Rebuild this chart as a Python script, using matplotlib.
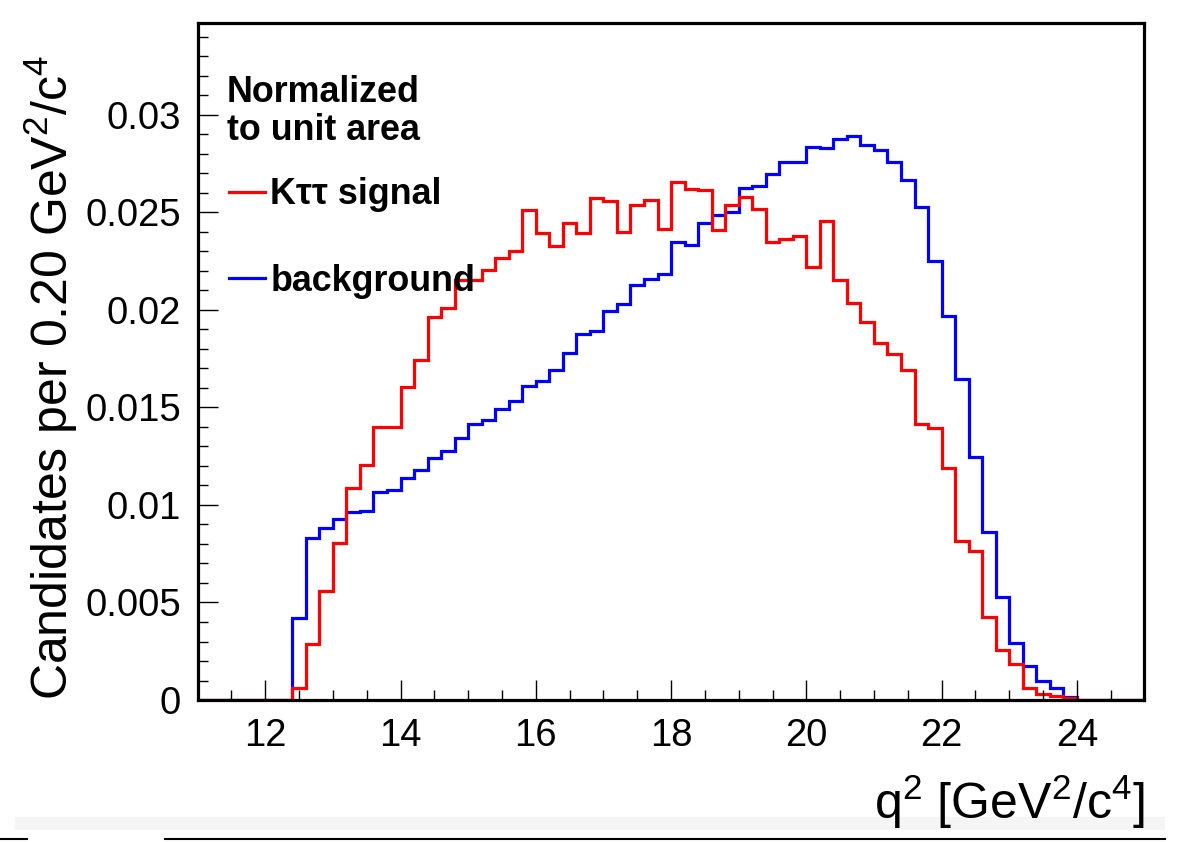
import numpy as np
import matplotlib
matplotlib.use('Agg')
import matplotlib.pyplot as plt
from matplotlib.ticker import MultipleLocator, FuncFormatter
from matplotlib.lines import Line2D
from matplotlib.patches import Rectangle

# q^2 binning: 0.2 GeV^2/c^4 bins from 11 to 25
bin_edges = np.linspace(11.0, 25.0, 71)

# normalized bin contents (bins 11.0 ... 24.8)
signal = [
	0, 0, 0, 0, 0, 0, 0,
	0.00063, 0.00287, 0.00559, 0.00803, 0.01085, 0.01207, 0.01398, 0.01398,
	0.01603, 0.01744, 0.01963, 0.02009, 0.02154, 0.02154, 0.02202, 0.02265, 0.02299, 0.02513,
	0.02393, 0.02325, 0.02444, 0.02393, 0.02573, 0.02556, 0.02398, 0.02538, 0.02564, 0.02414,
	0.02653, 0.02621, 0.02614, 0.02407, 0.02537, 0.02577, 0.02516, 0.02347, 0.02363, 0.02380,
	0.02217, 0.02456, 0.02154, 0.02034, 0.01938, 0.01832, 0.01774, 0.01689, 0.01415, 0.01393,
	0.01191, 0.00817, 0.00766, 0.00427, 0.00256, 0.00185, 0.00060, 0.00029, 0.00020, 0.00008,
	0, 0, 0, 0, 0,
]
background = [
	0, 0, 0, 0, 0, 0, 0,
	0.00419, 0.00832, 0.00880, 0.00928, 0.00966, 0.00970, 0.01065, 0.01074,
	0.01137, 0.01178, 0.01241, 0.01275, 0.01342, 0.01415, 0.01436, 0.01492, 0.01532, 0.01610,
	0.01637, 0.01689, 0.01778, 0.01875, 0.01892, 0.01995, 0.02029, 0.02128, 0.02159, 0.02183,
	0.02350, 0.02330, 0.02444, 0.02487, 0.02503, 0.02624, 0.02632, 0.02697, 0.02760, 0.02757,
	0.02834, 0.02829, 0.02877, 0.02892, 0.02846, 0.02821, 0.02760, 0.02667, 0.02525, 0.02248,
	0.01966, 0.01646, 0.01248, 0.00860, 0.00527, 0.00291, 0.00174, 0.00097, 0.00060, 0.00017,
	0, 0, 0, 0, 0,
]
legend_title = ['Normalized', 'to unit area']
legend_labels = ['K\u03c4\u03c4 signal', 'background']

plt.rcParams['font.family'] = ['Liberation Sans', 'DejaVu Sans']
plt.rcParams['mathtext.fontset'] = 'custom'
plt.rcParams['mathtext.rm'] = 'Liberation Sans'

W, H = 1180, 842
fig = plt.figure(figsize=(W / 100, H / 100), dpi=100)
ax = fig.add_axes([0.1675, 0.1686, 0.9699 - 0.1675, 0.9727 - 0.1686])

ax.stairs(background, bin_edges, color='#0000ff', linewidth=2.3)
ax.stairs(signal, bin_edges, color='#ff0000', linewidth=2.3)

ax.set_xlim(11, 25)
ax.set_ylim(0, 0.0347)

ax.xaxis.set_major_locator(MultipleLocator(2))
ax.xaxis.set_minor_locator(MultipleLocator(0.5))
ax.yaxis.set_major_locator(MultipleLocator(0.005))
ax.yaxis.set_minor_locator(MultipleLocator(0.001))
ax.yaxis.set_major_formatter(FuncFormatter(lambda v, p: '%g' % round(v, 4)))

ax.tick_params(which='both', direction='in', top=False, right=False, width=1.0, labelsize=27.5)
ax.tick_params(which='major', length=14.4)
ax.tick_params(which='minor', length=7.2)
ax.tick_params(axis='x', pad=13)
ax.tick_params(axis='y', pad=12)
for sp in ax.spines.values():
	sp.set_linewidth(2.3)

# axis titles, ROOT style (aligned to the end of the axis)
fig.text(1145 / W, 1 - 802 / H, r'q$^{2}$ [GeV$^{2}$/c$^{4}$]', fontsize=36,
	ha='right', va='center')
fig.text(51 / W, 1 - 55 / H, r'Candidates per 0.20 GeV$^{2}$/c$^{4}$', fontsize=36,
	rotation=90, ha='center', va='top')

# legend header
fig.text(227 / W, 1 - 101.7 / H, legend_title[0], fontsize=25.8, fontweight='bold', va='baseline')
fig.text(227 / W, 1 - 140 / H, legend_title[1], fontsize=25.8, fontweight='bold', va='baseline')

handles = [Line2D([], [], color='#ff0000', linewidth=2.3),
	Line2D([], [], color='#0000ff', linewidth=2.3)]
leg = ax.legend(handles, legend_labels, frameon=False,
	loc='center left', bbox_to_anchor=(229 / W, 1 - 238 / H), bbox_transform=fig.transFigure,
	borderaxespad=0, borderpad=0, handlelength=1.0, handletextpad=0.15, labelspacing=1.44,
	prop={'size': 25.8, 'weight': 'bold'})

# page artefacts below the plot
fig.add_artist(Rectangle((15 / W, 1 - 830 / H), 1150 / W, 13 / H,
	transform=fig.transFigure, facecolor='#f5f5f5', edgecolor='none', zorder=0))
fig.add_artist(Line2D([165 / W, 1165 / W], [1 - 839 / H] * 2,
	transform=fig.transFigure, color='black', linewidth=1.5))
fig.add_artist(Line2D([0, 27 / W], [1 - 839 / H] * 2,
	transform=fig.transFigure, color='black', linewidth=1.5))

fig.savefig('out.png', dpi=100)
